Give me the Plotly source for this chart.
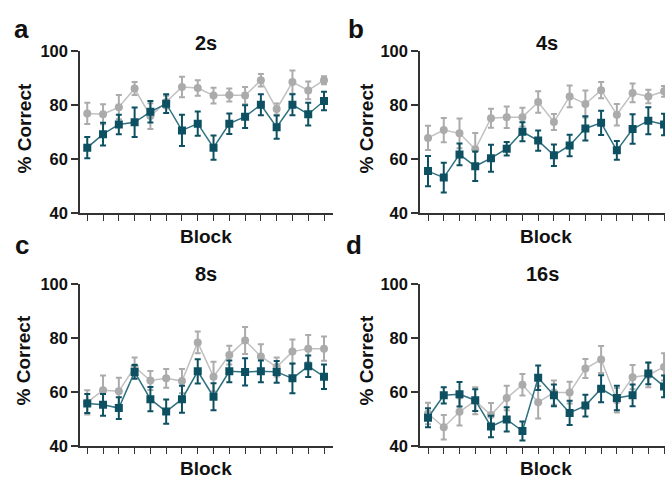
import plotly.graph_objects as go

W, H = 665, 487

blocks = list(range(1, 17))

a_gray = [77, 76.7, 79.3, 86.2, 76, 81.2, 86.8, 86.4, 83.6, 83.8, 83.6, 89.3, 78.6, 88.6, 85.5, 89.3]
a_gray_err = [3.9, 3.7, 4.5, 2.4, 4.8, 2.3, 3.8, 2.9, 2.9, 2.4, 3.2, 2.3, 2.1, 4.3, 3.3, 1.5]
a_teal = [64.3, 69.3, 72.9, 73.7, 77.6, 80.6, 70.7, 73.2, 64.3, 73.2, 75.8, 80.2, 71.9, 80.2, 76.7, 81.6]
a_teal_err = [3.9, 4.2, 3.6, 5.5, 4, 3.5, 5.8, 4.5, 4.5, 3.8, 4.2, 3.9, 4.3, 3.9, 4.2, 3.4]

b_gray = [67.9, 70.8, 69.6, 63.7, 75.2, 75.6, 75.6, 81.2, 73.8, 83.3, 80.5, 85.6, 76.5, 84.6, 83.3, 85.2]
b_gray_err = [4.5, 4.5, 5.5, 6, 3.5, 4, 3.5, 4, 3, 4, 5, 3, 4, 3.5, 2.5, 2]
b_teal = [55.6, 53.2, 61.8, 57.4, 60.4, 63.9, 70.2, 66.9, 61.5, 65.1, 71.4, 73.5, 63.3, 71.2, 74.3, 72.9]
b_teal_err = [5.6, 5.5, 4, 5.5, 5, 2.5, 3.5, 3.8, 4, 4, 4.5, 4.5, 3.5, 5.5, 5, 4]

c_gray = [56.1, 60.6, 60.2, 69.2, 64.2, 65, 64, 78.3, 65.6, 73.6, 79, 73.1, 69.2, 74.9, 76, 76]
c_gray_err = [4.5, 5.5, 5, 3.5, 3.5, 3.5, 4.5, 4, 5.5, 3.5, 5, 4.5, 3.5, 4.5, 5, 4.5]
c_teal = [55.7, 55.2, 54, 67.4, 57.3, 52.7, 57.3, 67.6, 58.2, 67.6, 67.4, 67.6, 67.4, 65, 69.5, 65.6]
c_teal_err = [3.5, 4, 4, 2.5, 4.5, 4.5, 5, 4.5, 5, 4, 5, 4, 4, 5.5, 4, 4.5]

d_gray = [52.1, 47, 52.7, 56.8, 51.5, 57.8, 62.7, 56.2, 59.8, 59.8, 68.7, 72, 57, 65.5, 66.3, 69.3]
d_gray_err = [4, 4.5, 5, 5, 4.5, 4.5, 4, 6, 4.5, 4, 3.5, 5, 4.5, 4.5, 4.5, 5]
d_teal = [50.5, 58.8, 59.2, 57, 47.3, 49.9, 45.6, 65.3, 58.8, 52.3, 55, 61.2, 57.8, 58.8, 66.9, 62.1]
d_teal_err = [3.5, 3, 4.5, 4, 4, 4.5, 3.5, 4.5, 4, 4.5, 4, 5, 4.5, 4, 4, 4]

panel_titles = ["2s", "4s", "8s", "16s"]
panel_letters = ["a", "b", "c", "d"]
y_ticks = [40, 60, 80, 100]

GRAY = "#ababab"
TEAL = "#0c5062"
AXC = "#333333"
FONT = "Liberation Sans, Arial, sans-serif"

panels = [
    (a_gray, a_gray_err, a_teal, a_teal_err),
    (b_gray, b_gray_err, b_teal, b_teal_err),
    (c_gray, c_gray_err, c_teal, c_teal_err),
    (d_gray, d_gray_err, d_teal, d_teal_err),
]

# pixel layout of each panel: (x0, x1, ytop, ybottom)
px_dom = [(80, 333, 44, 212), (420, 665, 44, 212), (80, 333, 285.3, 453.7), (420, 665, 285.3, 454)]
x_ranges = [[0.54, 16.57], [0.49, 16.06], [0.54, 16.57], [0.49, 16.06]]

fig = go.Figure()
layout = {}
for i, (g, ge, t, te) in enumerate(panels):
    n = "" if i == 0 else str(i + 1)
    xa, ya = "x" + n, "y" + n
    fig.add_trace(go.Scatter(
        x=blocks, y=g, mode="lines+markers", xaxis=xa, yaxis=ya,
        line=dict(color="#c0c0c0", width=1.5),
        marker=dict(symbol="circle", size=8, color=GRAY),
        error_y=dict(type="data", array=ge, visible=True, color=GRAY, thickness=2, width=3),
        showlegend=False))
    fig.add_trace(go.Scatter(
        x=blocks, y=t, mode="lines+markers", xaxis=xa, yaxis=ya,
        line=dict(color="#2f7180", width=1.5),
        marker=dict(symbol="square", size=8, color=TEAL),
        error_y=dict(type="data", array=te, visible=True, color=TEAL, thickness=2, width=3),
        showlegend=False))
    x0, x1, yt, yb = px_dom[i]
    layout["xaxis" + n] = dict(
        domain=[x0 / W, x1 / W], range=x_ranges[i], anchor=ya,
        showline=True, linecolor=AXC, linewidth=1.5, showgrid=False, zeroline=False,
        tickmode="array", tickvals=blocks, ticktext=[""] * len(blocks),
        ticks="outside", ticklen=6, tickwidth=1.3, tickcolor=AXC, fixedrange=True)
    layout["yaxis" + n] = dict(
        domain=[1 - yb / H, 1 - yt / H], range=[40, 100], anchor=xa,
        showline=True, linecolor=AXC, linewidth=1.5, showgrid=False, zeroline=False,
        tickmode="array", tickvals=y_ticks, ticktext=[str(v) for v in y_ticks],
        ticks="outside", ticklen=7, tickwidth=1.5, tickcolor=AXC,
        tickfont=dict(family=FONT, size=16.5, color="#111111", weight="bold"), fixedrange=True)

ann = []
def add_text(txt, x, y, size, angle=0):
    ann.append(dict(text=txt, x=x / W, y=1 - y / H, xref="paper", yref="paper",
                    xanchor="center", yanchor="middle", showarrow=False, textangle=angle,
                    font=dict(family=FONT, size=size, color="#111111", weight="bold")))

title_pos = [(206, 35), (547, 35), (206, 275), (542, 275)]
block_pos = [(206, 236), (546, 236), (206, 477), (546, 477)]
ylab_pos = [(24, 124), (366, 124), (24, 365), (367, 365)]
letter_pos = [(21, 21), (356, 21), (22, 245), (354, 245)]
for i in range(4):
    add_text(panel_titles[i], *title_pos[i], 20)
    add_text("Block", *block_pos[i], 19)
    add_text("% Correct", *ylab_pos[i], 19, angle=-90)
    add_text(panel_letters[i], *letter_pos[i], 26)

fig.update_layout(width=W, height=H, margin=dict(l=0, r=0, t=0, b=0),
                  paper_bgcolor="white", plot_bgcolor="white",
                  annotations=ann, **layout)
fig.write_html("out.html")
